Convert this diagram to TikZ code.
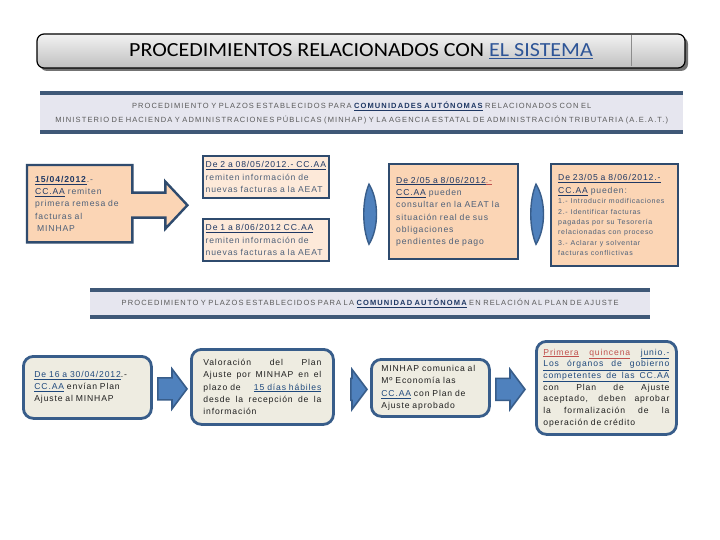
\documentclass[tikz,border=0pt]{standalone}
\usepackage{fontspec}
\usepackage{xcolor}
\setmainfont[LetterSpace=10]{Liberation Sans}
\newfontfamily\titlefont{Carlito}
\newfontfamily\bandfont[LetterSpace=15]{Liberation Sans}
\usetikzlibrary{calc,backgrounds,shadows,positioning}

\definecolor{peach}{HTML}{FBD5B5}
\definecolor{peachlight}{HTML}{FDE9D9}
\definecolor{boxedge}{HTML}{2F4B6E}
\definecolor{bandfill}{HTML}{E6E6EF}
\definecolor{bandedge}{HTML}{3F5877}
\definecolor{bandtext}{HTML}{5A5A5A}
\definecolor{rowtext}{HTML}{4D6079}
\definecolor{linkc}{HTML}{1F3864}
\definecolor{linkb}{HTML}{1F497D}
\definecolor{redc}{HTML}{C0504D}
\definecolor{planfill}{HTML}{EEECE1}
\definecolor{planedge}{HTML}{385D8A}
\definecolor{arrowblue}{HTML}{4F81BD}
\definecolor{titleblue}{HTML}{2E5597}

% underlined words
\newcommand\ulk[1]{{\color{linkc}\underline{#1}}}
\newcommand\ulb[1]{{\color{linkb}\underline{#1}}}
% justified line
\newcommand\jl[1]{\makebox[\hsize][s]{\spaceskip=0.25em plus 1fil\relax #1}}

% block arrow between two points (start, tip)
\newcommand\blockarrow[2]{%
  \draw[blkarrow] let \p1=#1, \p2=#2 in
    (\x1,\y2+11) -- (\x2-15,\y2+11) -- (\x2-15,\y2+20) -- (\x2,\y2)
    -- (\x2-15,\y2-20) -- (\x2-15,\y2-11) -- (\x1,\y2-11) -- cycle;}

% curved lens between row 1 boxes
\newcommand\lens[1]{%
  \draw[lensarrow] ($#1+(0,30)$) .. controls ($#1+(10,14)$) and ($#1+(10,-14)$) .. ($#1+(0,-30)$)
    .. controls ($#1+(-7,-14)$) and ($#1+(-7,14)$) .. cycle;}

\begin{document}
\begin{tikzpicture}[
  x=1pt, y=1pt,
  font=\fontsize{8.6}{12.3}\selectfont,
  titlebox/.style={draw=black, line width=1.2pt, rounded corners=7pt, top color=black!5, bottom color=black!25,
    drop shadow={shadow xshift=3pt, shadow yshift=-3pt, fill=black!55, opacity=1},
    minimum width=648, minimum height=34, inner sep=0pt},
  band/.style={fill=bandfill, anchor=north west, align=center, text=bandtext, inner sep=0pt,
    font=\bandfont\fontsize{7.5}{14}\selectfont},
  bandline/.style={draw=bandedge, line width=4pt},
  datebox/.style={draw=boxedge, line width=2.4pt, fill=peach, anchor=north west, align=left,
    text=rowtext, inner ysep=0pt},
  planbox/.style={draw=planedge, line width=2.8pt, fill=planfill, rounded corners=10pt, anchor=north west,
    align=left, text=black!88, inner ysep=0pt},
  callout/.style={draw=boxedge, line width=2.4pt, fill=peach, line join=miter},
  blkarrow/.style={draw=planedge, line width=1.6pt, fill=arrowblue, line join=miter},
  lensarrow/.style={draw=planedge, line width=1.4pt, fill=arrowblue},
]
\useasboundingbox (0,0) rectangle (720,-540);
\begin{scope}[on background layer]
\fill[white] (0,0) rectangle (720,-540);
\end{scope}

% title
\node[titlebox] (title) at (361,-51) {};
\draw[black!45, line width=1pt] (631,-35.5) -- (631,-66.5);
\node (titletext) at (361,-51) {\scalebox{1.1}[1]{\titlefont\fontsize{20}{24}\selectfont PROCEDIMIENTOS RELACIONADOS CON {\color{titleblue}\underline{EL SISTEMA}}}};

% first band
\node[band, text width=643, minimum height=39] (band1) at (40,-93)
  {PROCEDIMIENTO Y PLAZOS ESTABLECIDOS PARA {\color{linkc}\textbf{\underline{COMUNIDADES AUTÓNOMAS}}} RELACIONADOS CON EL\\
   MINISTERIO DE HACIENDA Y ADMINISTRACIONES PÚBLICAS (MINHAP) Y LA AGENCIA ESTATAL DE ADMINISTRACIÓN TRIBUTARIA (A.E.A.T.)};
\draw[bandline] (band1.north west) -- (band1.north east);
\draw[bandline] (band1.south west) -- (band1.south east);

% row 1
\node[anchor=north west, align=left, text=rowtext, inner xsep=8pt, inner ysep=0pt, text width=89, minimum height=77] (n1) at (27,-165)
  {\ulk{\textbf{15/04/2012}}.-\\ \ulk{CC.AA} remiten\\ primera remesa de\\ facturas al\\ \hspace{2pt}MINHAP};
\begin{scope}[on background layer]
\draw[callout] (n1.north west) -- (n1.north east) -- ($(n1.east)+(0,11)$) -- ($(n1.east)+(33,11)$)
  -- ($(n1.east)+(33,22)$) -- ($(n1.east)+(55,-1.5)$) -- ($(n1.east)+(33,-25)$) -- ($(n1.east)+(33,-14)$)
  -- ($(n1.east)+(0,-14)$) -- (n1.south east) -- (n1.south west) -- cycle;
\end{scope}

\node[datebox, fill=peachlight, inner xsep=2.5pt, text width=121, minimum height=42] (n2a) at (202,-155)
  {\ulk{De 2 a 08/05/2012.- CC.AA}\\ remiten información de\\ nuevas facturas a la AEAT};
\node[datebox, fill=peachlight, inner xsep=2.5pt, text width=121, minimum height=42] (n2b) at (202,-218)
  {\ulk{De 1 a 8/06/2012 CC.AA}\\ remiten información de\\ nuevas facturas a la AEAT};
\node[datebox, inner xsep=7pt, text width=115, minimum height=95] (n3) at (388,-163)
  {\ulk{De 2/05 a 8/06/2012}{\color{redc}\underline{.-}}\\ \ulk{CC.AA} pueden\\ consultar en la AEAT la\\ situación real de sus\\ obligaciones\\ pendientes de pago};
\node[datebox, inner xsep=7pt, text width=113, minimum height=102] (n4) at (550,-163)
  {\ulk{De 23/05 a 8/06/2012.-}\\ \ulk{CC.AA} pueden:\par
   {\fontsize{7}{10.4}\selectfont 1.- Introducir modificaciones\\ 2.- Identificar facturas\\ pagadas por su Tesorería\\ relacionadas con proceso\\ 3.- Aclarar y solventar\\ facturas conflictivas\par}};
\lens{($(n3.west)+(-19,-2.5)$)}
\lens{($(n4.west)+(-14,1)$)}

% second band
\node[band, text width=560, minimum height=27] (band2) at (90,-290)
  {PROCEDIMIENTO Y PLAZOS ESTABLECIDOS PARA LA {\color{linkc}\textbf{\underline{COMUNIDAD AUTÓNOMA}}} EN RELACIÓN AL PLAN DE AJUSTE};
\draw[bandline] (band2.north west) -- (band2.north east);
\draw[bandline] (band2.south west) -- (band2.south east);

% row 2
\node[planbox, inner xsep=11pt, text width=106, minimum height=62] (nA) at (22,-355)
  {\ulb{De 16 a 30/04/2012}.-\\ \ulb{CC.AA} envían Plan\\ Ajuste al MINHAP};
\node[planbox, inner xsep=12pt, text width=118, minimum height=75] (nB) at (190,-348)
  {\jl{Valoración del Plan}\\ \jl{Ajuste por MINHAP en el}\\ \makebox[\hsize][l]{plazo de\hfill\ulb{15 días hábiles}}\\ \jl{desde la recepción de la}\\ información};
\node[planbox, inner xsep=10pt, text width=98, minimum height=57] (nC) at (370,-358)
  {MINHAP comunica al\\ Mº Economía las\\ \ulb{CC.AA} con Plan de\\ Ajuste aprobado};
\node[planbox, inner xsep=7pt, text width=126, minimum height=93, font=\fontsize{8.6}{11.7}\selectfont] (nD) at (535,-340)
  {\makebox[\hsize][l]{{\color{redc}\underline{Primera}}\hfill{\color{redc}\underline{quincena}}\hfill\ulb{junio.-}}\\
   {\color{linkb}\underline{\jl{Los órganos de gobierno}}}\\
   {\color{linkb}\underline{\jl{competentes de las CC.AA}}}\\
   \jl{con Plan de Ajuste}\\ \jl{aceptado, deben aprobar}\\ \jl{la formalización de la}\\ operación de crédito};

\blockarrow{($(nA.east)+(5,0)$)}{($(nB.west)+(-3,-2)$)}
\blockarrow{($(nB.east)+(16,0)$)}{($(nC.west)+(-3,-1.5)$)}
\blockarrow{($(nC.east)+(5,0)$)}{($(nD.west)+(-10,-1.5)$)}
\end{tikzpicture}
\end{document}
